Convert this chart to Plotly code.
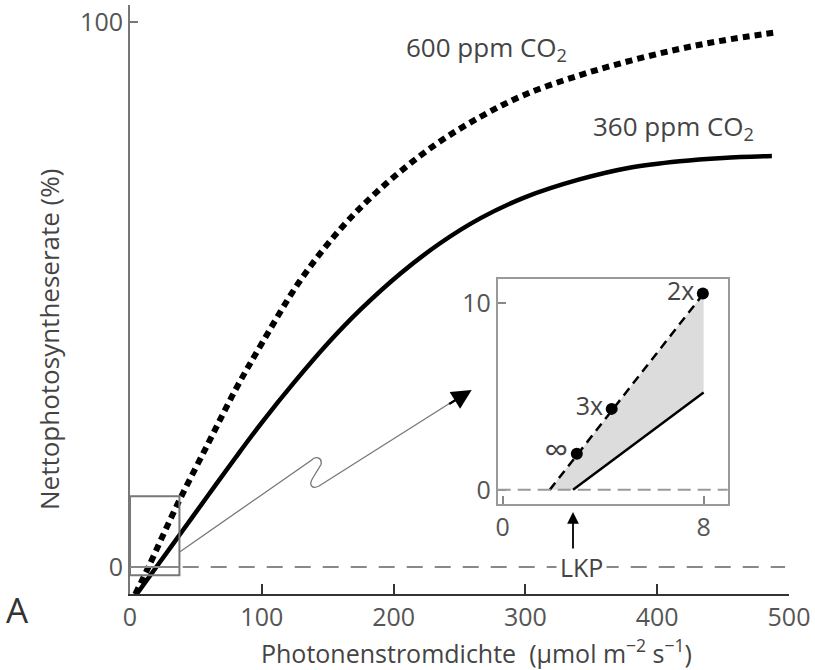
import plotly.graph_objects as go

# ---------------- data ----------------
ppfd_360 = [5, 20, 40, 60, 80, 100, 125, 150, 175, 205, 235, 266, 300, 341, 380, 417, 450, 487]
rate_360 = [-5, 0, 6.7, 13.4, 20.05, 26.5, 34.0, 41.0, 47.25, 53.8, 59.35, 64.0, 67.85, 71.1, 73.3, 74.45, 75.05, 75.4]

ppfd_600 = [4, 14, 36, 60, 80, 100, 129, 160, 190, 230, 266, 300, 341, 380, 417, 450, 488]
rate_600 = [-5, 0, 11.5, 23.0, 32.5, 41.0, 52.5, 62.1, 69.4, 77.2, 82.6, 86.7, 90.2, 92.9, 95.05, 96.6, 98.0]

x_ticks = [0, 100, 200, 300, 400, 500]
y_ticks = [0, 100]

# inset (zoom of the low-light region)
inset_dash_x = [1.87, 8]
inset_dash_y = [0, 10.5]
inset_solid_x = [2.8, 8]
inset_solid_y = [0, 5.2]
inset_pts_x = [2.95, 4.34, 7.97]
inset_pts_y = [1.93, 4.33, 10.5]
inset_pts_lbl = ["∞", "3x", "2x"]
inset_x_ticks = [0, 8]
inset_y_ticks = [0, 10]

FONT = "Open Sans"
TXT = "#444"

fig = go.Figure()

# main curves
fig.add_trace(go.Scatter(x=ppfd_600, y=rate_600, mode="lines", line_shape="spline",
                         line=dict(color="black", width=6, dash="7px,5px"),
                         hoverinfo="skip", showlegend=False, cliponaxis=False))
fig.add_trace(go.Scatter(x=ppfd_360, y=rate_360, mode="lines", line_shape="spline",
                         line=dict(color="black", width=4.5),
                         hoverinfo="skip", showlegend=False, cliponaxis=False))

# inset fill between lines
poly_x = inset_dash_x + inset_solid_x[::-1]
poly_y = inset_dash_y + inset_solid_y[::-1]
fig.add_trace(go.Scatter(x=poly_x, y=poly_y, fill="toself", mode="none",
                         fillcolor="#dcdcdc", xaxis="x2", yaxis="y2",
                         hoverinfo="skip", showlegend=False))
fig.add_trace(go.Scatter(x=inset_dash_x, y=inset_dash_y, mode="lines",
                         line=dict(color="black", width=2.5, dash="9px,6px"),
                         xaxis="x2", yaxis="y2", hoverinfo="skip", showlegend=False))
fig.add_trace(go.Scatter(x=inset_solid_x, y=inset_solid_y, mode="lines",
                         line=dict(color="black", width=2.5),
                         xaxis="x2", yaxis="y2", hoverinfo="skip", showlegend=False))
fig.add_trace(go.Scatter(x=inset_pts_x, y=inset_pts_y, mode="markers+text",
                         marker=dict(color="black", size=12),
                         text=inset_pts_lbl, textposition="middle left",
                         textfont=dict(family=FONT, size=[34, 25, 25], color=TXT),
                         xaxis="x2", yaxis="y2", hoverinfo="skip", showlegend=False,
                         cliponaxis=False))

# --------- decoration helpers (pixel -> main data coords) ---------
def P(px, py):
    return f"{(px - 130) / 1.318:.3f},{(567 - py) / 5.45:.3f}"

shapes = []
# zoom box
shapes.append(dict(type="rect", xref="x", yref="y", x0=0, x1=37.5, y0=-1.5, y1=13,
                   line=dict(color="#777", width=2), fillcolor="rgba(0,0,0,0)"))
# zero line inside the box
shapes.append(dict(type="line", xref="x", yref="y", x0=0, x1=37.5, y0=0, y1=0,
                   line=dict(color="#888", width=2)))
# LKP dashed zero line
shapes.append(dict(type="line", xref="x", yref="y", x0=40, x1=497, y0=0, y1=0,
                   line=dict(color="#888", width=2, dash="16px,12px")))
# inset zero line
shapes.append(dict(type="line", xref="x2 domain", yref="y2", x0=0, x1=1, y0=0, y1=0,
                   line=dict(color="#999", width=2, dash="13px,7px")))
# connector with squiggle
path = ("M " + P(180, 551.7) + " L " + P(311.7, 460) +
        " C " + P(315, 456) + " " + P(322.5, 457) + " " + P(321, 464.5) +
        " L " + P(312.5, 478.5) +
        " C " + P(308.5, 485) + " " + P(312, 489.5) + " " + P(319, 486) +
        " L " + P(462, 395.5))
shapes.append(dict(type="path", xref="x", yref="y", path=path,
                   line=dict(color="#777", width=1.3)))

annotations = []
# arrow head of connector
annotations.append(dict(xref="x", yref="y", x=(471.7 - 130) / 1.318, y=(567 - 390) / 5.45,
                        ax=-24, ay=14.9, text="", showarrow=True, arrowhead=2,
                        arrowsize=1.8, arrowwidth=2.2, arrowcolor="black"))
# LKP label + arrow
annotations.append(dict(xref="x", yref="y", x=(581 - 130) / 1.318, y=0, text="LKP",
                        showarrow=False, bgcolor="white", borderpad=3,
                        font=dict(family=FONT, size=25, color=TXT)))
annotations.append(dict(xref="x", yref="y", x=(573 - 130) / 1.318, y=(567 - 512) / 5.45,
                        ax=0, ay=38, text="", showarrow=True, arrowhead=2,
                        arrowsize=1.3, arrowwidth=1.8, arrowcolor="black"))
# curve labels
annotations.append(dict(xref="x", yref="y", x=(404 - 130) / 1.318, y=(567 - 48) / 5.45,
                        text="600 ppm CO<sub>2</sub>", showarrow=False, xanchor="left",
                        font=dict(family=FONT, size=26, color=TXT)))
annotations.append(dict(xref="x", yref="y", x=(591 - 130) / 1.318, y=(567 - 127) / 5.45,
                        text="360 ppm CO<sub>2</sub>", showarrow=False, xanchor="left",
                        font=dict(family=FONT, size=26, color=TXT)))
# axis titles
annotations.append(dict(xref="paper", yref="paper", x=(476 - 130) / 659, y=(594 - 651) / 589,
                        text="Photonenstromdichte  (µmol m<sup>−2</sup> s<sup>−1</sup>)",
                        showarrow=False, yanchor="middle",
                        font=dict(family=FONT, size=25, color=TXT)))
annotations.append(dict(xref="paper", yref="paper", x=(49 - 130) / 659, y=(594 - 340) / 589,
                        text="Nettophotosyntheserate (%)", textangle=-90,
                        showarrow=False, xanchor="center", yanchor="middle",
                        font=dict(family=FONT, size=26, color=TXT)))
# panel letter
annotations.append(dict(xref="paper", yref="paper", x=(17 - 130) / 659, y=(594 - 609) / 589,
                        text="A", showarrow=False, xanchor="center", yanchor="middle",
                        font=dict(family=FONT, size=35, color="#333")))

tickfont = dict(family=FONT, size=25, color="#555")

fig.update_layout(
    width=815, height=670,
    margin=dict(l=130, r=26, t=5, b=76),
    paper_bgcolor="white", plot_bgcolor="white",
    showlegend=False,
    shapes=shapes, annotations=annotations,
    xaxis=dict(range=[0, 500], tickvals=x_ticks, ticks="inside", ticklen=10,
               tickwidth=1.5, tickcolor="#333", showline=True, linecolor="#333",
               linewidth=2, showgrid=False, zeroline=False, tickfont=tickfont,
               ticklabelstandoff=0),
    yaxis=dict(range=[-4.95, 103.1], tickvals=y_ticks, ticks="inside", ticklen=8,
               tickwidth=1.5, tickcolor="#777", showline=True, linecolor="#777",
               linewidth=2, showgrid=False, zeroline=False, tickfont=tickfont),
    xaxis2=dict(domain=[0.558, 0.907], anchor="y2", range=[-0.2, 8.96],
                tickvals=inset_x_ticks, ticks="inside", ticklen=8, tickwidth=1.5,
                tickcolor="#888", showline=True, mirror=True, linecolor="#999",
                linewidth=2, showgrid=False, zeroline=False, tickfont=tickfont),
    yaxis2=dict(domain=[0.153, 0.535], anchor="x2", range=[-0.75, 11.28],
                tickvals=inset_y_ticks, ticks="inside", ticklen=8, tickwidth=1.5,
                tickcolor="#888", showline=True, mirror=True, linecolor="#999",
                linewidth=2, showgrid=False, zeroline=False, tickfont=tickfont),
)

fig.write_html("out.html", config={"displayModeBar": False},
               post_script="document.body.style.margin='0px';")
